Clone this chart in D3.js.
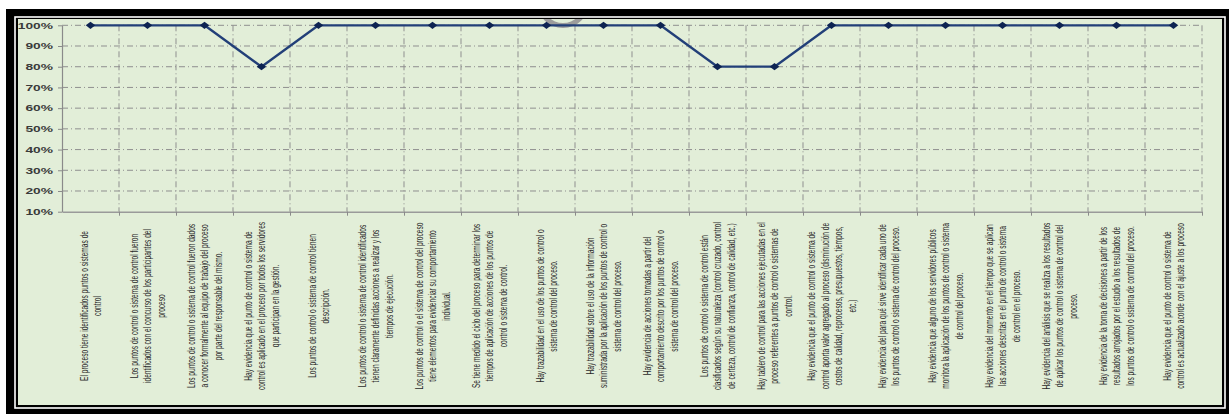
<!DOCTYPE html>
<html>
<head>
<meta charset="utf-8">
<script src="https://cdn.jsdelivr.net/npm/d3@7"></script>
<style>
  html, body { margin: 0; padding: 0; background: #fff; }
  svg { display: block; }
</style>
</head>
<body>
<svg id="chart"></svg>
<script>
// values (share of compliance per item)
var valores = [1, 1, 1, 0.8, 1, 1, 1, 1, 1, 1, 1, 0.8, 0.8, 1, 1, 1, 1, 1, 1, 1];

var yTicks = [0.1, 0.2, 0.3, 0.4, 0.5, 0.6, 0.7, 0.8, 0.9, 1.0];

// category labels, wrapped as in the original
var etiquetas = [
  ["El proceso tiene identificados puntos o sistemas de", "control"],
  ["Los puntos de control  o sistema de control fueron", "identificados con el concurso de los participantes del", "proceso"],
  ["Los puntos de control o sistema de control fueron dados", "a conocer formalmente al equipo de trabajo del proceso", "por parte del responsable del mismo."],
  ["Hay evidencia que el punto de control o sistema de", "control es aplicado en el proceso por todos los servidores", "que participan en la gestión."],
  ["Los puntos de control o sistema de control tienen", "descripción."],
  ["Los puntos de control o sistema de control identificados", "tienen claramente definidas acciones a realizar y los", "tiempos de ejecución."],
  ["Los puntos de control o el sistema de control del proceso", "tiene elementos para evidenciar su comportamiento", "individual."],
  ["Se tiene medido el ciclo del proceso para determinar los", "tiempos de aplicación de acciones de los puntos de", "control o sistema de control."],
  ["Hay trazabilidad en el uso de los puntos de control o", "sistema de control del proceso."],
  ["Hay trazabilidad sobre el uso de la información", "suministrada por la aplicación de los puntos de control o", "sistema de control del proceso."],
  ["Hay evidencia de acciones tomadas a partir del", "comportamiento descrito por los puntos de control o", "sistema de control del proceso."],
  ["Los puntos de control o sistema de control están", "clasificados según su naturaleza (control cruzado, control", "de certeza, control de confianza, control de calidad, etc.)"],
  ["Hay tablero de control para las acciones ejecutadas en el", "proceso referentes a puntos de control o sistemas de", "control."],
  ["Hay evidencia que el punto de control o sistema de", "control aporta valor agregado al proceso (disminución de", "costos de calidad, reprocesos, presupuestos, tiempos,", "etc.)"],
  ["Hay evidencia del para qué sirve identificar cada uno de", "los puntos de control o sistema de control del proceso."],
  ["Hay evidencia que alguno de los servidores públicos", "monitora la aplicación de los puntos de control o sistema", "de control del proceso."],
  ["Hay evidencia del momento en el tiempo que se aplican", "las acciones descritas en el punto de control o sistema", "de control en el proceso."],
  ["Hay evidencia del análisis que se realiza a los resultados", "de aplicar los puntos de control o sistema de control del", "proceso."],
  ["Hay evidencia de la toma de decisiones a partir de los", "resultados arrojados por el estudio a los resultados de", "los puntos de control o sistema de control del proceso."],
  ["Hay evidencia que el punto de control o sistema de", "control es actualizado acorde con el ajuste a los proceso"]
];

function drawChart() {
  var W = 1229, H = 414;
  var svg = d3.select("#chart").attr("width", W).attr("height", H);

  var plotLeft = 62, plotRight = 1202, plotTop = 25.3, plotBottom = 211.7;

  // frame
  svg.append("rect").attr("x", 6).attr("y", 9).attr("width", 1240).attr("height", 420).attr("fill", "#000");
  svg.append("rect").attr("x", 15).attr("y", 17).attr("width", 1210).attr("height", 391)
      .attr("fill", "none").attr("stroke", "#fff").attr("stroke-width", 1.6);
  svg.append("rect").attr("x", 18).attr("y", 19).attr("width", 1204).attr("height", 386).attr("fill", "#e2eed8");

  svg.append("clipPath").attr("id", "plotclip")
    .append("rect").attr("x", 18).attr("y", 19).attr("width", 1204).attr("height", 386);

  var idx = d3.range(valores.length);
  var x = d3.scaleBand().domain(idx).range([plotLeft, plotRight]).padding(0);
  var xEdge = d3.scaleLinear().domain([0, valores.length]).range([plotLeft, plotRight]);
  var y = d3.scaleLinear().domain([0.1, 1.0]).range([plotBottom, plotTop]);

  // faint logo arc peeking in at the top
  svg.append("g")
      .attr("clip-path", "url(#plotclip)")
    .append("path")
      .attr("transform", "translate(563,2)")
      .attr("d", d3.arc().innerRadius(21).outerRadius(26).startAngle(0).endAngle(2 * Math.PI)())
      .attr("fill", "#9c9c9c");

  var g = svg.append("g");

  // grid
  g.append("g").selectAll("line")
    .data(yTicks.slice(1))
    .enter().append("line")
      .attr("x1", plotLeft).attr("x2", plotRight)
      .attr("y1", function(d) { return y(d); }).attr("y2", function(d) { return y(d); })
      .attr("stroke", "#8f8f8f").attr("stroke-width", 1)
      .attr("stroke-dasharray", "6,3,1,3");

  g.append("g").selectAll("line")
    .data(d3.range(1, valores.length + 1))
    .enter().append("line")
      .attr("x1", function(d) { return xEdge(d); }).attr("x2", function(d) { return xEdge(d); })
      .attr("y1", y(1.0)).attr("y2", y(0.1))
      .attr("stroke", "#8f8f8f").attr("stroke-width", 1)
      .attr("stroke-dasharray", "6,3,1,3");

  // axes
  var yAxis = d3.axisLeft(y).tickValues(yTicks).tickFormat(d3.format(".0%")).tickSizeInner(4).tickSizeOuter(0);
  var yG = g.append("g").attr("transform", "translate(" + plotLeft + ",0)").call(yAxis);
  yG.select(".domain").attr("stroke", "#8a8a8a").attr("stroke-width", 1.2);
  yG.selectAll(".tick line").attr("stroke", "#8a8a8a");
  yG.selectAll(".tick text")
      .attr("font-family", "Liberation Sans, Arial, sans-serif")
      .attr("font-weight", "bold")
      .attr("font-size", 8.5)
      .attr("fill", "#3a3a3a")
      .attr("x", null)
      .attr("transform", "translate(-9,0) scale(1.62,1)");

  var xAxis = d3.axisBottom(xEdge).tickValues(d3.range(1, valores.length + 1)).tickFormat("").tickSizeInner(4).tickSizeOuter(0);
  var xG = g.append("g").attr("transform", "translate(0," + plotBottom + ")").call(xAxis);
  xG.select(".domain").attr("stroke", "#9a9a9a").attr("stroke-width", 1.6);
  xG.selectAll(".tick line").attr("stroke", "#8a8a8a");

  // category labels, rotated and narrow
  var lineGap = 13.7, midY = 306;
  var lab = g.append("g").selectAll("g")
    .data(etiquetas)
    .enter().append("g")
      .attr("transform", function(d, i) {
        return "translate(" + (x(i) + x.bandwidth() / 2) + "," + midY + ") rotate(-90) scale(0.6,1)";
      });
  lab.selectAll("text")
    .data(function(d) { return d.map(function(t, k) { return {t: t, k: k, n: d.length}; }); })
    .enter().append("text")
      .attr("x", 0)
      .attr("y", function(d) { return (d.k - (d.n - 1) / 2) * lineGap; })
      .attr("dy", "0.35em")
      .attr("text-anchor", "middle")
      .attr("font-family", "Liberation Sans, Arial, sans-serif")
      .attr("font-size", 11)
      .attr("fill", "#2a2a2a")
      .text(function(d) { return d.t; });

  // series
  var line = d3.line()
      .x(function(d, i) { return x(i) + x.bandwidth() / 2; })
      .y(function(d) { return y(d); });

  g.append("path")
      .datum(valores)
      .attr("fill", "none")
      .attr("stroke", "#223f78")
      .attr("stroke-width", 2.3)
      .attr("stroke-linejoin", "round")
      .attr("d", line);

  g.append("g").selectAll("path")
    .data(valores)
    .enter().append("path")
      .attr("transform", function(d, i) { return "translate(" + (x(i) + x.bandwidth() / 2) + "," + y(d) + ")"; })
      .attr("d", "M0,-3.6L4.8,0L0,3.6L-4.8,0Z")
      .attr("fill", "#0d2352");
}

drawChart();
</script>
</body>
</html>
